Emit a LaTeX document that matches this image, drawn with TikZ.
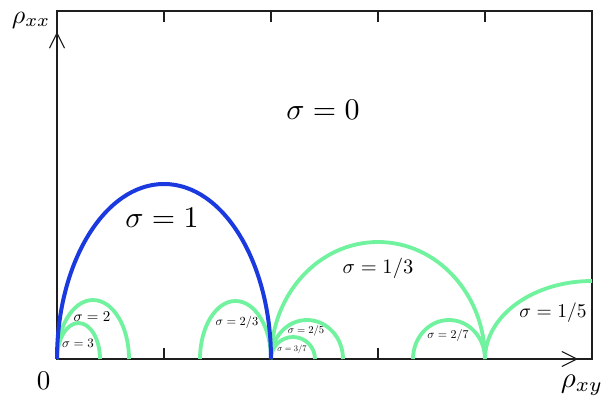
\documentclass[tikz,border=0pt]{standalone}
\usetikzlibrary{arrows.meta}
\definecolor{arcgreen}{RGB}{112,242,158}
\definecolor{arcblue}{RGB}{26,58,224}
\definecolor{framegray}{RGB}{30,30,30}
\begin{document}
\begin{tikzpicture}[x=1pt,y=1pt,
  framestyle/.style={draw=framegray,line width=1.1pt},
  axisarrow/.style={draw=framegray,line width=1.1pt,-{Straight Barb[length=15pt,width=15pt,line width=1.1pt]}},
  greenarc/.style={draw=arcgreen,line width=3.8pt},
  bluearc/.style={draw=arcblue,line width=4pt},
  lbl/.style={inner sep=0pt,anchor=center,font=\fontsize{10}{12}\selectfont,scale=#1/10}]
\useasboundingbox (0,0) rectangle (613,409);
% frame
\coordinate (O) at (57,50);
\coordinate (TR) at (592,398);
\coordinate (xtip) at (578,50);
\coordinate (ytip) at (57,377);
\draw[framestyle] (O) rectangle (TR);
% ticks
\foreach \tx in {164,271,378,485}{
  \draw[framestyle] (\tx,398) -- (\tx,387);
  \draw[framestyle] (\tx,50) -- (\tx,61);
}
% axes arrows
\draw[axisarrow] (O) -- (xtip);
\draw[axisarrow] (O) -- (ytip);
% green arcs
\draw[greenarc] (57,50) arc[start angle=180,end angle=0,x radius=36,y radius=59];
\draw[greenarc] (57,50) arc[start angle=180,end angle=0,x radius=21.5,y radius=36];
\draw[greenarc] (200,50) arc[start angle=180,end angle=0,x radius=35.5,y radius=58];
\draw[greenarc] (271,50) arc[start angle=180,end angle=0,x radius=107,y radius=117];
\draw[greenarc] (271,50) arc[start angle=180,end angle=0,x radius=36,y radius=39];
\draw[greenarc] (271,50) arc[start angle=180,end angle=0,x radius=22,y radius=22];
\draw[greenarc] (413,50) arc[start angle=180,end angle=0,x radius=36,y radius=39];
\draw[greenarc] (485,50) arc[start angle=180,end angle=90,x radius=107,y radius=78];
% blue arc
\draw[bluearc] (57,50) arc[start angle=180,end angle=0,x radius=107,y radius=175];
% labels
\node[lbl=26] (rxx) at (31,389) {$\rho_{xx}$};
\node[lbl=29] (rxy) at (582,24) {$\rho_{xy}$};
\node[lbl=27] (zero) at (43.5,28) {$0$};
\node[lbl=30] (s0) at (323,299) {$\sigma=0$};
\node[lbl=30] (s1) at (162,191) {$\sigma=1$};
\node[lbl=20.5] (s13) at (378,141) {$\sigma=1/3$};
\node[lbl=19.5] (s15) at (553,96) {$\sigma=1/5$};
\node[lbl=15] (s2) at (92,92) {$\sigma=2$};
\node[lbl=13] (s3) at (78,66) {$\sigma=3$};
\node[lbl=12.4] (s23) at (237,87) {$\sigma=2/3$};
\node[lbl=10.6] (s25) at (306,78) {$\sigma=2/5$};
\node[lbl=8.5] (s37) at (292,60) {$\sigma=3/7$};
\node[lbl=12] (s27) at (448,73) {$\sigma=2/7$};
\end{tikzpicture}
\end{document}
